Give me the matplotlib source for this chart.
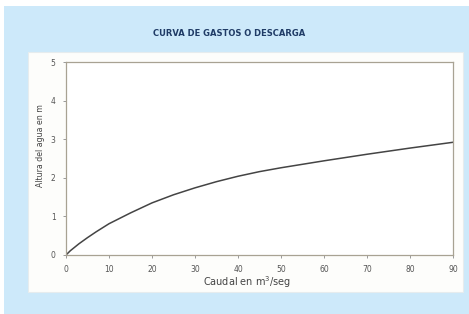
import matplotlib
matplotlib.use("Agg")
import matplotlib.pyplot as plt
from matplotlib.patches import Rectangle

caudal = [0, 1, 2, 3, 5, 7, 10, 15, 20, 25, 30, 35, 40, 45, 50, 60, 70, 80, 90]
altura = [0, 0.11, 0.20, 0.29, 0.45, 0.60, 0.81, 1.09, 1.35, 1.56, 1.74, 1.90, 2.04, 2.16, 2.26, 2.44, 2.61, 2.77, 2.92]
x_ticks = [0, 10, 20, 30, 40, 50, 60, 70, 80, 90]
y_ticks = [0, 1, 2, 3, 4, 5]

W, H = 469, 314
fig = plt.figure(figsize=(W / 100, H / 100), dpi=100)
fig.patch.set_facecolor("white")

def box(x0, y0, x1, y1, **kw):
    fig.patches.append(Rectangle((x0 / W, 1 - y1 / H), (x1 - x0) / W, (y1 - y0) / H,
                                 transform=fig.transFigure, **kw))

box(4, 6, 469, 314, facecolor="#cde9fa", edgecolor="none", zorder=0)
box(28, 52, 463, 292, facecolor="#fdfdfb", edgecolor="#e6ecee", linewidth=0.8, zorder=1)

ax = fig.add_axes([66 / W, 1 - 255 / H, (453 - 66) / W, (255 - 62) / H])
ax.set_zorder(2)
ax.set_facecolor("white")
ax.plot(caudal, altura, color="#444444", linewidth=1.1)
ax.set_xlim(0, 90)
ax.set_ylim(0, 5)
ax.set_xticks(x_ticks)
ax.set_yticks(y_ticks)
for s in ax.spines.values():
    s.set_color("#a8a293")
    s.set_linewidth(0.9)
ax.tick_params(axis="both", colors="#8a8a8a", labelsize=5.5, length=2.5, width=0.6,
               labelcolor="#555555", pad=5)

fig.text(229 / W, 1 - 33 / H, "CURVA DE GASTOS O DESCARGA", ha="center", va="center",
         fontsize=6.0, fontweight="bold", color="#1f3b66")
fig.text(247 / W, 1 - 282 / H, "Caudal en m$^3$/seg", ha="center", va="center",
         fontsize=7.0, color="#444444")
fig.text(40 / W, 1 - 146 / H, "Altura del agua en m", ha="center", va="center",
         rotation=90, fontsize=5.6, color="#444444")

fig.savefig("out.png", dpi=100, facecolor=fig.get_facecolor())
